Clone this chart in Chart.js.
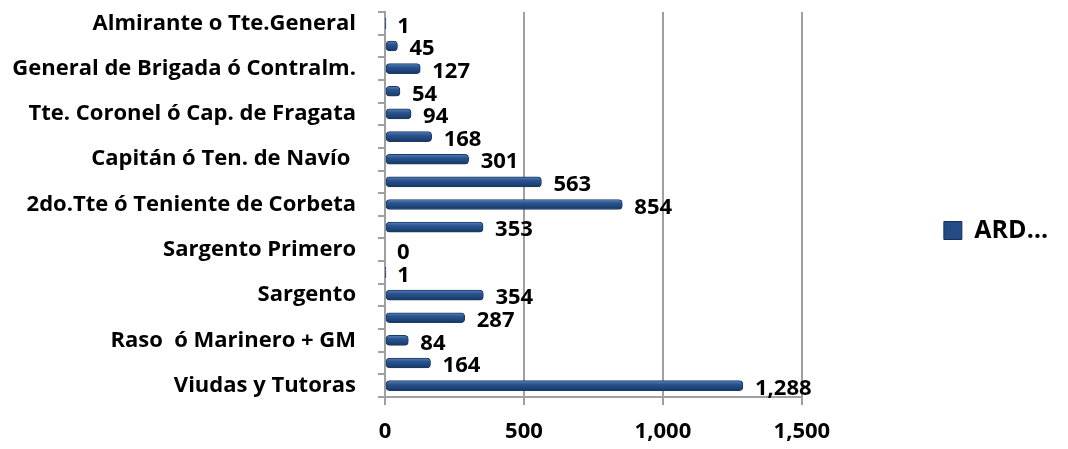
<!DOCTYPE html>
<html>
<head>
<meta charset="utf-8">
<script src="https://cdn.jsdelivr.net/npm/chart.js@4"></script>
<style>
  html, body { margin: 0; padding: 0; background: #fff; }
  #wrap { width: 1068px; height: 449px; }
</style>
</head>
<body>
<div id="wrap"><canvas id="rangosChart"></canvas></div>
<script>
// Categorías (solo se muestra una de cada dos, como en el original)
const categorias = [
    'Almirante o Tte.General',
    'Vicealmirante ó Mayor General',
    'General de Brigada ó Contralm.',
    'Coronel ó Capitán de Navío',
    'Tte. Coronel ó Cap. de Fragata',
    'Mayor ó Cap. de Corbeta',
    'Capitán ó Ten. de Navío ',
    '1er.Tte ó Teniente de Fragata',
    '2do.Tte ó Teniente de Corbeta',
    'Sargento Mayor',
    'Sargento Primero',
    'Asimilado',
    'Sargento',
    'Cabo',
    'Raso  ó Marinero + GM',
    'Otros',
    'Viudas y Tutoras'
];
const valoresARD = [1, 45, 127, 54, 94, 168, 301, 563, 854, 353, 0, 1, 354, 287, 84, 164, 1288];
const ticksX = [0, 500, 1000, 1500];
const nombreSerie = 'ARD…';

const fuente = '"Open Sans", sans-serif';

// Degradado vertical para dar el aspecto de barra 3D
function colorBarra(context) {
    const chart = context.chart;
    const y = chart.scales && chart.scales.y;
    if (!chart.chartArea || !y || context.dataIndex === undefined) return '#28518D';
    const cy = y.getPixelForValue(context.dataIndex);
    const g = chart.ctx.createLinearGradient(0, cy - 5, 0, cy + 5);
    g.addColorStop(0, '#5A82BA');
    g.addColorStop(0.35, '#2A5592');
    g.addColorStop(1, '#173763');
    return g;
}

// Etiquetas de valor al final de cada barra
const etiquetasValor = {
    id: 'etiquetasValor',
    afterDatasetsDraw(chart) {
        const c = chart.ctx;
        const meta = chart.getDatasetMeta(0);
        c.save();
        c.font = 'bold 22px ' + fuente;
        c.fillStyle = '#000';
        c.textBaseline = 'middle';
        c.textAlign = 'left';
        meta.data.forEach((bar, i) => {
            const v = chart.data.datasets[0].data[i];
            c.fillText(v.toLocaleString('en-US'), bar.x + 12, bar.y + 3);
        });
        c.restore();
    }
};

const ctx = document.getElementById('rangosChart').getContext('2d');
const rangosChart = new Chart(ctx, {
    type: 'bar',
    data: {
        labels: categorias,
        datasets: [{
            label: nombreSerie,
            data: valoresARD,
            backgroundColor: colorBarra,
            borderColor: '#1A3A68',
            borderWidth: 1,
            borderRadius: 4,
            borderSkipped: false,
            barThickness: 10
        }]
    },
    options: {
        indexAxis: 'y',
        responsive: true,
        maintainAspectRatio: false,
        animation: false,
        layout: { padding: { top: 12, right: 10, bottom: 0, left: 0 } },
        plugins: {
            legend: {
                position: 'right',
                labels: {
                    boxWidth: 18,
                    boxHeight: 18,
                    padding: 142,
                    color: '#000',
                    font: { family: fuente, size: 25, weight: 'bold' },
                    generateLabels(chart) {
                        const items = Chart.defaults.plugins.legend.labels.generateLabels(chart);
                        items.forEach(it => { it.fillStyle = '#234C86'; it.strokeStyle = '#142F57'; it.lineWidth = 1; });
                        return items;
                    }
                }
            },
            tooltip: { enabled: false }
        },
        scales: {
            x: {
                min: 0,
                max: 1500,
                afterBuildTicks(scale) {
                    scale.ticks = ticksX.map(v => ({ value: v }));
                },
                afterFit(scale) {
                    scale.height = 52;
                },
                grid: {
                    color: '#a0a0a0',
                    lineWidth: 2,
                    tickLength: 8,
                    drawTicks: true
                },
                border: { display: true, color: '#a0a0a0', width: 2 },
                ticks: {
                    padding: 14,
                    color: '#000',
                    font: { family: fuente, size: 22, weight: 'bold' },
                    callback: v => v.toLocaleString('en-US')
                }
            },
            y: {
                afterFit(scale) {
                    scale.width = 385;
                    scale.paddingTop = 0;
                    scale.paddingBottom = 0;
                },
                grid: {
                    drawOnChartArea: false,
                    color: '#a0a0a0',
                    lineWidth: 2,
                    tickLength: 7
                },
                border: { display: true, color: '#a0a0a0', width: 2 },
                ticks: {
                    autoSkip: false,
                    padding: 22,
                    color: '#000',
                    font: { family: fuente, size: 22, weight: 'bold' },
                    callback: function (value, index) {
                        return index % 2 === 0 ? this.getLabelForValue(value) : '';
                    }
                }
            }
        }
    },
    plugins: [etiquetasValor]
});
</script>
</body>
</html>
